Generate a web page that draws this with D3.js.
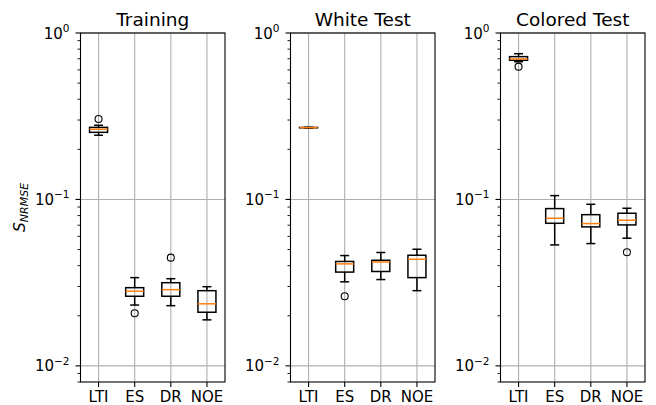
<!DOCTYPE html>
<html>
<head>
<meta charset="utf-8" />
<script src="https://cdn.jsdelivr.net/npm/d3@7"></script>
<style>
  body { margin: 0; background: #fff; }
  svg { font-family: "DejaVu Sans", sans-serif; }
</style>
</head>
<body>
<svg id="chart" width="656" height="405"></svg>
<script>
// * data
const categories = ["LTI", "ES", "DR", "NOE"];
const panelTitles = ["Training", "White Test", "Colored Test"];

// * [whisker low, q1, median, q3, whisker high]
const trainingStats = [
  [0.243, 0.253, 0.264, 0.271, 0.279],
  [0.0232, 0.0262, 0.0281, 0.0295, 0.0339],
  [0.023, 0.0262, 0.0287, 0.0316, 0.0334],
  [0.0189, 0.021, 0.0236, 0.0283, 0.0299],
];
const trainingOutliers = [[0.304], [0.0207], [0.0447], []];

const whiteStats = [
  [0.2685, 0.2693, 0.27, 0.2707, 0.2715],
  [0.032, 0.0366, 0.041, 0.0424, 0.046],
  [0.033, 0.0369, 0.0421, 0.0431, 0.048],
  [0.0283, 0.0339, 0.0437, 0.0462, 0.0502],
];
const whiteOutliers = [[], [0.0262], [], []];

const coloredStats = [
  [0.672, 0.686, 0.698, 0.721, 0.751],
  [0.0533, 0.0719, 0.0771, 0.0881, 0.1054],
  [0.0543, 0.0684, 0.0716, 0.081, 0.0935],
  [0.0585, 0.0703, 0.075, 0.0826, 0.0885],
];
const coloredOutliers = [[0.628], [], [], [0.0482]];

const yMajorTicks = [1, 0.1, 0.01];
const yMajorLabels = ["0", "\u22121", "\u22122"];

const panels = [
  { title: panelTitles[0], stats: trainingStats, outliers: trainingOutliers },
  { title: panelTitles[1], stats: whiteStats, outliers: whiteOutliers },
  { title: panelTitles[2], stats: coloredStats, outliers: coloredOutliers },
];

const svg = d3.select("#chart");
const panelLefts = [80.5, 290.5, 500.5];
const panelWidth = 144.5;
const plotTop = 33;
const plotBottom = 382;
const boxW = 18;
const capW = 9;

const yScale = d3.scaleLog().domain([0.008, 1]).range([plotBottom, plotTop]);

// * minor ticks 2..9 per decade inside the domain
const minorTicks = [];
[0.001, 0.01, 0.1].forEach((dec) => {
  for (let k = 2; k <= 9; k++) {
    const v = dec * k;
    if (v >= 0.008 && v < 1) minorTicks.push(v);
  }
});

panels.forEach((panel, pi) => {
  const left = panelLefts[pi];
  const xScale = d3.scaleLinear().domain([0.5, 4.5]).range([left, left + panelWidth]);
  const g = svg.append("g");

  // * grid
  g.selectAll(".gx")
    .data(categories)
    .enter()
    .append("line")
    .attr("x1", (d, i) => xScale(i + 1))
    .attr("x2", (d, i) => xScale(i + 1))
    .attr("y1", plotTop)
    .attr("y2", plotBottom)
    .style("stroke", "#b0b0b0")
    .style("stroke-width", 1.1);
  g.selectAll(".gy")
    .data(yMajorTicks)
    .enter()
    .append("line")
    .attr("x1", left)
    .attr("x2", left + panelWidth)
    .attr("y1", (d) => yScale(d))
    .attr("y2", (d) => yScale(d))
    .style("stroke", "#b0b0b0")
    .style("stroke-width", 1.1);

  // * boxes
  const boxes = g
    .selectAll(".box")
    .data(panel.stats)
    .enter()
    .append("g")
    .attr("transform", (d, i) => `translate(${xScale(i + 1)},0)`);

  boxes
    .append("line")
    .attr("x1", 0)
    .attr("x2", 0)
    .attr("y1", (d) => yScale(d[0]))
    .attr("y2", (d) => yScale(d[1]))
    .style("stroke", "black")
    .style("stroke-width", 1.5);
  boxes
    .append("line")
    .attr("x1", 0)
    .attr("x2", 0)
    .attr("y1", (d) => yScale(d[3]))
    .attr("y2", (d) => yScale(d[4]))
    .style("stroke", "black")
    .style("stroke-width", 1.5);
  [0, 4].forEach((k) => {
    boxes
      .append("line")
      .attr("x1", -capW / 2)
      .attr("x2", capW / 2)
      .attr("y1", (d) => yScale(d[k]))
      .attr("y2", (d) => yScale(d[k]))
      .style("stroke", "black")
      .style("stroke-width", 1.5);
  });
  boxes
    .append("rect")
    .attr("x", -boxW / 2)
    .attr("width", boxW)
    .attr("y", (d) => yScale(d[3]))
    .attr("height", (d) => yScale(d[1]) - yScale(d[3]))
    .style("fill", "none")
    .style("stroke", "black")
    .style("stroke-width", 1.5);
  boxes
    .append("line")
    .attr("x1", -boxW / 2)
    .attr("x2", boxW / 2)
    .attr("y1", (d) => yScale(d[2]))
    .attr("y2", (d) => yScale(d[2]))
    .style("stroke", "#ff7f0e")
    .style("stroke-width", 1.5);

  // * fliers
  panel.outliers.forEach((list, i) => {
    g.selectAll(null)
      .data(list)
      .enter()
      .append("circle")
      .attr("cx", xScale(i + 1))
      .attr("cy", (d) => yScale(d))
      .attr("r", 3.5)
      .style("fill", "none")
      .style("stroke", "black")
      .style("stroke-width", 1.1);
  });

  // * frame
  g.append("rect")
    .attr("x", left)
    .attr("y", plotTop)
    .attr("width", panelWidth)
    .attr("height", plotBottom - plotTop)
    .style("fill", "none")
    .style("stroke", "black")
    .style("stroke-width", 1.1);

  // * x ticks
  g.selectAll(".xt")
    .data(categories)
    .enter()
    .append("line")
    .attr("x1", (d, i) => xScale(i + 1))
    .attr("x2", (d, i) => xScale(i + 1))
    .attr("y1", plotBottom)
    .attr("y2", plotBottom + 5)
    .style("stroke", "black")
    .style("stroke-width", 1.1);
  g.selectAll(".xl")
    .data(categories)
    .enter()
    .append("text")
    .attr("x", (d, i) => xScale(i + 1))
    .attr("y", 402)
    .attr("text-anchor", "middle")
    .style("font-size", "15px")
    .text((d) => d);

  // * y ticks
  g.selectAll(".ymt")
    .data(minorTicks)
    .enter()
    .append("line")
    .attr("x1", left - 3)
    .attr("x2", left)
    .attr("y1", (d) => yScale(d))
    .attr("y2", (d) => yScale(d))
    .style("stroke", "black")
    .style("stroke-width", 0.9);
  g.selectAll(".yt")
    .data(yMajorTicks)
    .enter()
    .append("line")
    .attr("x1", left - 5)
    .attr("x2", left)
    .attr("y1", (d) => yScale(d))
    .attr("y2", (d) => yScale(d))
    .style("stroke", "black")
    .style("stroke-width", 1.1);
  const yl = g
    .selectAll(".yl")
    .data(yMajorTicks)
    .enter()
    .append("text")
    .attr("x", left - 11)
    .attr("y", (d) => yScale(d) + 5.5)
    .attr("text-anchor", "end")
    .style("font-size", "15px");
  yl.append("tspan").text("10");
  yl.append("tspan")
    .attr("dy", -6.5)
    .style("font-size", "10.5px")
    .text((d, i) => yMajorLabels[i]);

  // * title
  g.append("text")
    .attr("x", left + panelWidth / 2)
    .attr("y", 25.5)
    .attr("text-anchor", "middle")
    .style("font-size", "18.5px")
    .text(panel.title);
});

// * y axis label
const ylab = svg
  .append("text")
  .attr("transform", `translate(25,${(plotTop + plotBottom) / 2}) rotate(-90)`)
  .attr("text-anchor", "middle")
  .style("font-size", "15.5px")
  .style("font-style", "italic");
ylab.append("tspan").text("S");
ylab.append("tspan").attr("dy", 3).style("font-size", "11px").text("NRMSE");
</script>
</body>
</html>
